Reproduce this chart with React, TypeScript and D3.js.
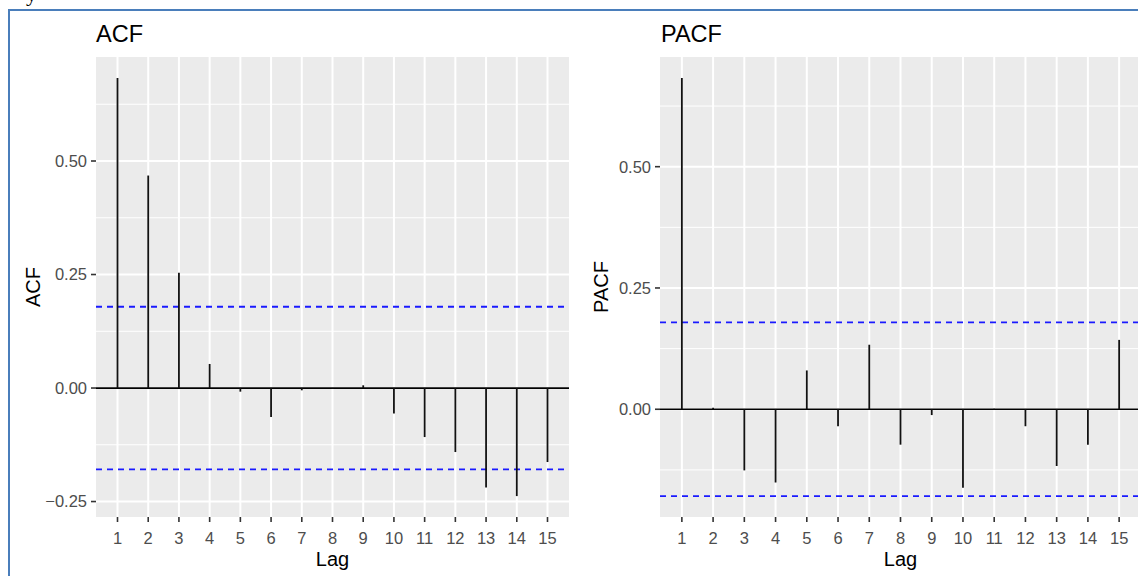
import React, { useEffect, useRef } from 'react';
import * as d3 from 'd3';

// lags shown on both panels
const lags: number[] = [1, 2, 3, 4, 5, 6, 7, 8, 9, 10, 11, 12, 13, 14, 15];

// autocorrelation values
const acfValues: number[] = [
  0.683, 0.468, 0.254, 0.053, -0.008, -0.064, -0.005, -0.001,
  0.006, -0.056, -0.108, -0.141, -0.219, -0.238, -0.163,
];

// partial autocorrelation values
const pacfValues: number[] = [
  0.683, 0.003, -0.126, -0.151, 0.080, -0.035, 0.133, -0.073,
  -0.012, -0.162, 0.001, -0.035, -0.117, -0.073, 0.143,
];

// 95% confidence bound (same series length for both)
const confLimit = 0.179;

const yTickValues: number[] = [-0.25, 0, 0.25, 0.5];

const FONT = "'Liberation Sans', Arial, sans-serif";

const App = () => {
  const svgRef = useRef<SVGSVGElement | null>(null);

  useEffect(() => {
    if (!svgRef.current) return;
    const svg = d3.select(svgRef.current);
    svg.selectAll('*').remove();

    const width = 1138;
    const height = 576;

    svg.append('rect')
      .attr('width', width)
      .attr('height', height)
      .attr('fill', '#ffffff');

    // stray glyph from the surrounding document, cut off at the top
    svg.append('text')
      .attr('x', 26)
      .attr('y', 1)
      .attr('font-family', "'Liberation Serif', serif")
      .attr('font-size', 22)
      .attr('fill', '#000')
      .text('y');

    // frame around the screenshot
    svg.append('line')
      .attr('x1', 8).attr('x2', width)
      .attr('y1', 10).attr('y2', 10)
      .attr('stroke', '#4a7ebb').attr('stroke-width', 2);
    svg.append('line')
      .attr('x1', 9).attr('x2', 9)
      .attr('y1', 9).attr('y2', height)
      .attr('stroke', '#4a7ebb').attr('stroke-width', 2);

    const drawPanel = (
      values: number[],
      title: string,
      yLabel: string,
      left: number,
      right: number,
      titleX: number,
      yLabelX: number
    ) => {
      const top = 57;
      const bottom = 517;

      const x = d3.scaleLinear().domain([0.3, 15.7]).range([left, right]);

      // ggplot style 5% expansion of the data range (incl. confidence lines)
      const all = values.concat([confLimit, -confLimit, 0]);
      const lo = d3.min(all) as number;
      const hi = d3.max(all) as number;
      const pad = (hi - lo) * 0.05;
      const y = d3.scaleLinear().domain([lo - pad, hi + pad]).range([bottom, top]);
      const [d0, d1] = y.domain();

      const g = svg.append('g');

      g.append('rect')
        .attr('x', left)
        .attr('y', top)
        .attr('width', right - left)
        .attr('height', bottom - top)
        .attr('fill', '#ebebeb');

      const majorY = yTickValues.filter(v => v >= d0 && v <= d1);
      const minorY = d3.range(-0.375, 0.8, 0.25).filter(v => v >= d0 && v <= d1);

      g.append('g')
        .selectAll('line')
        .data(minorY)
        .join('line')
        .attr('x1', left).attr('x2', right)
        .attr('y1', d => y(d)).attr('y2', d => y(d))
        .attr('stroke', '#ffffff')
        .attr('stroke-width', 1);

      g.append('g')
        .selectAll('line')
        .data(majorY)
        .join('line')
        .attr('x1', left).attr('x2', right)
        .attr('y1', d => y(d)).attr('y2', d => y(d))
        .attr('stroke', '#ffffff')
        .attr('stroke-width', 2);

      g.append('g')
        .selectAll('line')
        .data(lags)
        .join('line')
        .attr('x1', d => x(d)).attr('x2', d => x(d))
        .attr('y1', top).attr('y2', bottom)
        .attr('stroke', '#ffffff')
        .attr('stroke-width', 2);

      // zero line
      g.append('line')
        .attr('x1', left).attr('x2', right)
        .attr('y1', y(0)).attr('y2', y(0))
        .attr('stroke', '#000')
        .attr('stroke-width', 1.7);

      // confidence bounds
      g.append('g')
        .selectAll('line')
        .data([confLimit, -confLimit])
        .join('line')
        .attr('x1', left).attr('x2', right)
        .attr('y1', d => y(d)).attr('y2', d => y(d))
        .attr('stroke', '#1a1aff')
        .attr('stroke-width', 1.8)
        .attr('stroke-dasharray', '6 5');

      // spikes
      g.append('g')
        .selectAll('line')
        .data(values)
        .join('line')
        .attr('x1', (d, i) => x(lags[i])).attr('x2', (d, i) => x(lags[i]))
        .attr('y1', y(0)).attr('y2', d => y(d))
        .attr('stroke', '#111')
        .attr('stroke-width', 1.8);

      // y axis
      const yAxis = g.append('g');
      yAxis.selectAll('line')
        .data(majorY)
        .join('line')
        .attr('x1', left - 5).attr('x2', left)
        .attr('y1', d => y(d)).attr('y2', d => y(d))
        .attr('stroke', '#333')
        .attr('stroke-width', 1.6);
      yAxis.selectAll('text')
        .data(majorY)
        .join('text')
        .attr('x', left - 9)
        .attr('y', d => y(d))
        .attr('dy', '0.36em')
        .attr('text-anchor', 'end')
        .attr('font-family', FONT)
        .attr('font-size', 16.5)
        .attr('fill', '#4d4d4d')
        .text(d => d3.format('.2f')(d));

      // x axis
      const xAxis = g.append('g');
      xAxis.selectAll('line')
        .data(lags)
        .join('line')
        .attr('x1', d => x(d)).attr('x2', d => x(d))
        .attr('y1', bottom).attr('y2', bottom + 5)
        .attr('stroke', '#333')
        .attr('stroke-width', 1.6);
      xAxis.selectAll('text')
        .data(lags)
        .join('text')
        .attr('x', d => x(d))
        .attr('y', 544)
        .attr('text-anchor', 'middle')
        .attr('font-family', FONT)
        .attr('font-size', 16.5)
        .attr('fill', '#4d4d4d')
        .text(d => String(d));

      // axis titles
      g.append('text')
        .attr('x', (left + right) / 2)
        .attr('y', 566)
        .attr('text-anchor', 'middle')
        .attr('font-family', FONT)
        .attr('font-size', 20)
        .attr('fill', '#000')
        .text('Lag');

      g.append('text')
        .attr('transform', `translate(${yLabelX},${(top + bottom) / 2}) rotate(-90)`)
        .attr('text-anchor', 'middle')
        .attr('font-family', FONT)
        .attr('font-size', 20)
        .attr('fill', '#000')
        .text(yLabel);

      // panel title
      g.append('text')
        .attr('x', titleX)
        .attr('y', 42)
        .attr('font-family', FONT)
        .attr('font-size', 23.5)
        .attr('fill', '#000')
        .text(title);
    };

    drawPanel(acfValues, 'ACF', 'ACF', 96, 569, 96, 40);
    drawPanel(pacfValues, 'PACF', 'PACF', 660, 1141, 661, 608);
  }, []);

  return (
    <svg
      ref={svgRef}
      width={1138}
      height={576}
      style={{ position: 'absolute', left: 0, top: 0, display: 'block' }}
    />
  );
};

export default App;
